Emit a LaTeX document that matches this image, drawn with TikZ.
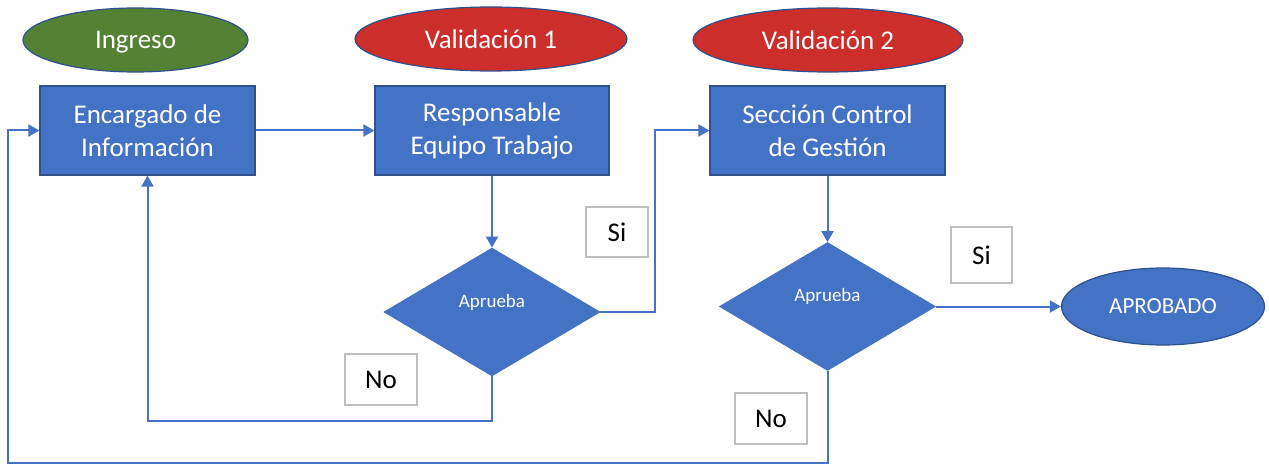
\documentclass[tikz,border=0pt]{standalone}
\usepackage{fontspec}
\setmainfont{Carlito}
\usetikzlibrary{shapes.geometric,arrows.meta}
\definecolor{azul}{HTML}{4472C4}
\definecolor{borde}{HTML}{2F528F}
\definecolor{verde}{HTML}{548235}
\definecolor{rojo}{HTML}{CB2E2B}
\definecolor{gris}{HTML}{BFBFBF}
\begin{document}
\begin{tikzpicture}[x=.5pt,y=-.5pt,
    etapa/.style={ellipse,draw=borde,line width=.6pt,text=white,inner sep=0,
        minimum height=32pt,font=\fontsize{13.5}{16}\selectfont},
    caja/.style={rectangle,draw=borde,fill=azul,line width=.6pt,text=white,align=center,
        inner sep=0,minimum height=44.5pt,font=\fontsize{13.5}{16.5}\selectfont},
    decision/.style={diamond,draw=azul,fill=azul,inner sep=0,minimum width=108pt,minimum height=64pt},
    etiqueta/.style={rectangle,draw=gris,fill=white,line width=.6pt,inner sep=0,
        font=\fontsize{13.5}{16}\selectfont},
    linea/.style={draw=azul,line width=1pt},
    flecha/.style={linea,-{Triangle[length=5.5pt,width=6pt]}}]
\useasboundingbox (0,0) rectangle (1269,465);

%etapas
\node[etapa,fill=verde,text depth=0pt,minimum width=112.5pt] (ingreso) at (135.5,40){Ingreso};
\node[etapa,fill=rojo,text depth=0pt,minimum width=136pt] (val1) at (491,39){Validación 1};
\node[etapa,fill=rojo,text depth=0pt,minimum width=135pt] (val2) at (828,40){Validación 2};

%cajas
\node[caja,minimum width=107.5pt] (enc) at (147.5,130.5){Encargado de\\Información};
\node[caja,minimum width=117pt] (resp) at (492,130.5){Responsable\\Equipo Trabajo};
\node[caja,minimum width=117.5pt] (sec) at (827.5,130.5){Sección Control\\de Gestión};

%decisiones
\node[decision,label={[text=white,font=\fontsize{9.5}{11}\selectfont,yshift=5pt]center:Aprueba}] (dec1) at (492,312){};
\node[decision,label={[text=white,font=\fontsize{9.5}{11}\selectfont,yshift=5pt]center:Aprueba}] (dec2) at (827.5,306.5){};
\node[etapa,fill=azul,minimum width=101.5pt,minimum height=38.5pt,font=\fontsize{11.5}{14}\selectfont] (apr) at (1163,306.5){APROBADO};

%etiquetas
\node[etiqueta,minimum width=31pt,minimum height=25pt] (si1) at (617,232){Si};
\node[etiqueta,minimum width=30.5pt,minimum height=28pt] (si2) at (981.5,255){Si};
\node[etiqueta,minimum width=36pt,minimum height=25.5pt] (no1) at (381,379.5){No};
\node[etiqueta,minimum width=36pt,minimum height=25.5pt] (no2) at (771,418.5){No};

%conectores
\path[flecha] (enc) -- (resp);
\path[flecha] (resp) -- (dec1);
\path[flecha] (sec) -- (dec2);
\path[flecha] (dec2.east) -- (apr.west);
\coordinate (codo1) at (655,312);
\path[flecha] (dec1.east) -- (codo1) |- (sec.west);
\coordinate (codo2) at (492,421);
\path[flecha] (dec1.south) -- (codo2) -| (enc.south);
\coordinate (codo3) at (827.5,463);
\coordinate (codo4) at (8,463);
\path[flecha] (dec2.south) -- (codo3) -- (codo4) |- (enc.west);

\end{tikzpicture}
\end{document}
